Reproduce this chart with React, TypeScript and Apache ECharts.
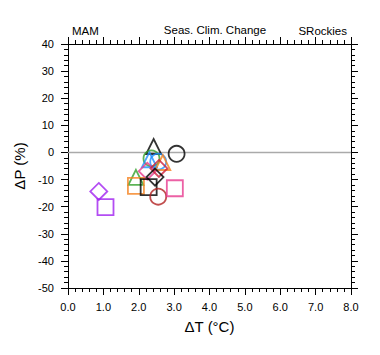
import React, { useEffect, useRef } from "react";
import * as echarts from "echarts";

// Data (ΔT in °C, ΔP in %)
const markerIds = ["m1","m2","m3","m4","m5","m6","m7","m8","m9","m10","m11","m12","m13","m14","m15","m16"];
const dT = [2.42, 3.07, 2.36, 2.30, 2.55, 2.68, 2.24, 2.57, 2.46, 1.92, 1.92, 2.28, 2.55, 3.02, 0.87, 1.06];
const dP = [2.2, -0.5, -2.2, -2.7, -3.4, -3.7, -6.9, -5.9, -9.1, -9.2, -12.3, -12.8, -16.3, -13.2, -14.4, -20.2];
const xTicks = ["0.0","1.0","2.0","3.0","4.0","5.0","6.0","7.0","8.0"];
const yTicks = [-50, -40, -30, -20, -10, 0, 10, 20, 30, 40];
const zeroLineX = [0, 8];
const zeroLineY = [0, 0];

// Marker styles
const shapes = ["triangle","circle","circle","triangle","circle","triangle","diamond","diamond","diamond","triangle","rect","rect","circle","rect","diamond","rect"];
const colors = ["#000000","#000000","#33a02c","#1e90ff","#1e90ff","#f5821f","#e7398f","#cc1f3a","#000000","#33a02c","#f5821f","#000000","#b22222","#e7398f","#a020f0","#a020f0"];
const sizeFor: Record<string, number> = { triangle: 15, circle: 16, diamond: 17, rect: 16 };

const FONT = "Liberation Sans, Arial, Helvetica, sans-serif";

export default function App() {
  const ref = useRef<HTMLDivElement>(null);
  useEffect(() => {
    if (!ref.current) return;
    const chart = echarts.init(ref.current, null, { renderer: "svg" });
    const axisCommon = {
      type: "value" as const,
      axisLine: { show: true, onZero: false, lineStyle: { color: "#000", width: 1 } },
      axisTick: { show: true, inside: false, length: 7, lineStyle: { color: "#000", width: 1 } },
      minorTick: { show: true, splitNumber: 5, length: 4, lineStyle: { color: "#000", width: 1 } },
      splitLine: { show: false },
    };
    const scatter = markerIds.map((id, i) => ({
      type: "scatter" as const,
      name: id,
      xAxisIndex: 0,
      yAxisIndex: 0,
      symbol: shapes[i],
      symbolSize: sizeFor[shapes[i]],
      data: [[dT[i], dP[i]]],
      itemStyle: { color: "rgba(0,0,0,0)", borderColor: colors[i], borderWidth: 1.8 },
      z: 3,
    }));
    const titleStyle = { fontSize: 11.5, fontWeight: "normal" as const, color: "#000", fontFamily: FONT };
    chart.setOption({
      animation: false,
      backgroundColor: "#fff",
      textStyle: { fontFamily: FONT },
      grid: { left: 68, right: 29, top: 44, bottom: 67 },
      xAxis: [
        {
          ...axisCommon,
          position: "bottom",
          min: 0,
          max: 8,
          interval: 1,
          name: "ΔT (°C)",
          nameLocation: "middle",
          nameGap: 31,
          nameTextStyle: { fontSize: 15, color: "#000", fontFamily: FONT },
          axisLabel: {
            show: true,
            margin: 13,
            fontSize: 11,
            color: "#000",
            fontFamily: FONT,
            formatter: (v: number) => xTicks[Math.round(v)] ?? "",
          },
        },
        {
          ...axisCommon,
          position: "top",
          min: 0,
          max: 8,
          interval: 1,
          axisLabel: { show: false },
        },
      ],
      yAxis: [
        {
          ...axisCommon,
          position: "left",
          min: yTicks[0],
          max: yTicks[yTicks.length - 1],
          interval: 10,
          name: "ΔP (%)",
          nameLocation: "middle",
          nameGap: 41,
          nameRotate: 90,
          nameTextStyle: { fontSize: 15, color: "#000", fontFamily: FONT },
          axisLabel: { show: true, margin: 14, fontSize: 11, color: "#000", fontFamily: FONT },
        },
        {
          ...axisCommon,
          position: "right",
          min: yTicks[0],
          max: yTicks[yTicks.length - 1],
          interval: 10,
          axisLabel: { show: false },
        },
      ],
      title: [
        { text: "MAM", left: 67, top: 20, textStyle: titleStyle },
        { text: "Seas. Clim. Change", left: 210, top: 19, textAlign: "center", textStyle: titleStyle },
        { text: "SRockies", right: 28, top: 20, textStyle: titleStyle },
      ],
      series: [
        {
          type: "line",
          xAxisIndex: 0,
          yAxisIndex: 0,
          data: zeroLineX.map((x, i) => [x, zeroLineY[i]]),
          silent: true,
          symbol: "none",
          lineStyle: { color: "#aaaaaa", width: 1.5 },
          z: 1,
        },
        ...scatter,
      ],
    });
    return () => chart.dispose();
  }, []);
  return (
    <div
      ref={ref}
      style={{ position: "fixed", left: 0, top: 0, width: 380, height: 355, background: "#fff" }}
    />
  );
}
